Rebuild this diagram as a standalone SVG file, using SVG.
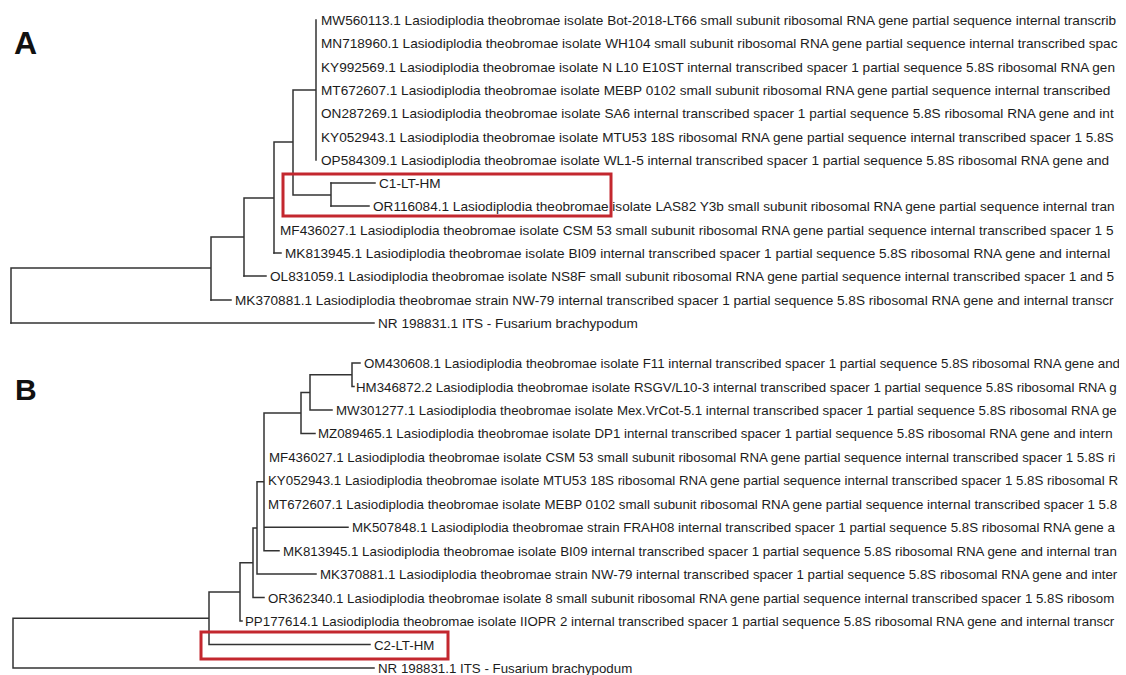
<svg xmlns="http://www.w3.org/2000/svg" width="1126" height="675" viewBox="0 0 1126 675">
<style>
.ln{stroke:#333;stroke-width:1.5;fill:none;stroke-linecap:square}
.ta{font-family:"Liberation Sans",Arial,sans-serif;font-size:13.6px;fill:#1c1c1c}
.tb{font-family:"Liberation Sans",Arial,sans-serif;font-size:13.3px;fill:#1c1c1c}
.pl{font-family:"Liberation Sans",Arial,sans-serif;font-weight:bold;fill:#111}
.hl{fill:none;stroke:#c3272e;stroke-width:3}
</style>
<defs><clipPath id="clip"><rect x="0" y="0" width="1119" height="675"/></clipPath></defs>
<rect width="1126" height="675" fill="#fff"/>
<text class="pl" x="14" y="54" font-size="32">A</text>
<text class="pl" x="15" y="400" font-size="30">B</text>
<g id="connectors">
<path class="ln" d="M316,20V160 M293,90H316 M331,183V206 M293,195H331 M293,90V195 M274,142H293 M274,142V253 M244,198H274 M244,198V276 M211,237H244 M211,237V300 M11,268H211 M11,268V323"/>
<path class="ln" d="M331,183H375 M331,206H369 M274,253H281 M244,276H266 M211,300H231 M11,323H374"/>
<path class="ln" d="M352,363V386.5 M352,363H360 M352,386.5H354 M310,374.7H352 M310,374.7V410 M310,410H332 M301,392.4H310 M301,392.4V433.4 M301,433.4H315 M264,412.9H301 M264,412.9V550.7 M264,527.2H348 M264,550.7H279 M257,481.8H264 M257,481.8V574.1 M257,574.1H316 M253,528H257 M253,528V597.6 M253,597.6H264 M240,562.8H253 M240,562.8V621 M240,621H242 M209,591.9H240 M209,591.9V644.5 M209,644.5H370 M13,618.2H209 M13,618.2V668 M13,668H374"/>
</g>
<g clip-path="url(#clip)">
<g id="a-mw560113"><text class="ta" x="321" y="25">MW560113.1 Lasiodiplodia theobromae isolate Bot-2018-LT66 small subunit ribosomal RNA gene partial sequence internal transcrib</text></g>
<g id="a-mn718960"><text class="ta" x="321" y="48.3">MN718960.1 Lasiodiplodia theobromae isolate WH104 small subunit ribosomal RNA gene partial sequence internal transcribed spac</text></g>
<g id="a-ky992569"><text class="ta" x="321" y="71.6">KY992569.1 Lasiodiplodia theobromae isolate N L10 E10ST internal transcribed spacer 1 partial sequence 5.8S ribosomal RNA gen</text></g>
<g id="a-mt672607"><text class="ta" x="321" y="94.9">MT672607.1 Lasiodiplodia theobromae isolate MEBP 0102 small subunit ribosomal RNA gene partial sequence internal transcribed</text></g>
<g id="a-on287269"><text class="ta" x="321" y="118.2">ON287269.1 Lasiodiplodia theobromae isolate SA6 internal transcribed spacer 1 partial sequence 5.8S ribosomal RNA gene and int</text></g>
<g id="a-ky052943"><text class="ta" x="321" y="141.5">KY052943.1 Lasiodiplodia theobromae isolate MTU53 18S ribosomal RNA gene partial sequence internal transcribed spacer 1 5.8S</text></g>
<g id="a-op584309"><text class="ta" x="321" y="164.8">OP584309.1 Lasiodiplodia theobromae isolate WL1-5 internal transcribed spacer 1 partial sequence 5.8S ribosomal RNA gene and</text></g>
<g id="a-c1"><text class="ta" x="379" y="188.1">C1-LT-HM</text></g>
<g id="a-or116084"><text class="ta" x="373" y="211.4">OR116084.1 Lasiodiplodia theobromae isolate LAS82 Y3b small subunit ribosomal RNA gene partial sequence internal tran</text></g>
<g id="a-mf436027"><text class="ta" x="280" y="234.7">MF436027.1 Lasiodiplodia theobromae isolate CSM 53 small subunit ribosomal RNA gene partial sequence internal transcribed spacer 1 5</text></g>
<g id="a-mk813945"><text class="ta" x="285" y="258">MK813945.1 Lasiodiplodia theobromae isolate BI09 internal transcribed spacer 1 partial sequence 5.8S ribosomal RNA gene and internal</text></g>
<g id="a-ol831059"><text class="ta" x="270" y="281.3">OL831059.1 Lasiodiplodia theobromae isolate NS8F small subunit ribosomal RNA gene partial sequence internal transcribed spacer 1 and 5</text></g>
<g id="a-mk370881"><text class="ta" x="235" y="304.6">MK370881.1 Lasiodiplodia theobromae strain NW-79 internal transcribed spacer 1 partial sequence 5.8S ribosomal RNA gene and internal transcr</text></g>
<g id="a-nr198831"><text class="ta" x="378" y="327.9">NR 198831.1 ITS - Fusarium brachypodum</text></g>

<g id="b-om430608"><text class="tb" x="364" y="368">OM430608.1 Lasiodiplodia theobromae isolate F11 internal transcribed spacer 1 partial sequence 5.8S ribosomal RNA gene and</text></g>
<g id="b-hm346872"><text class="tb" x="356" y="391.5">HM346872.2 Lasiodiplodia theobromae isolate RSGV/L10-3 internal transcribed spacer 1 partial sequence 5.8S ribosomal RNA g</text></g>
<g id="b-mw301277"><text class="tb" x="336" y="415">MW301277.1 Lasiodiplodia theobromae isolate Mex.VrCot-5.1 internal transcribed spacer 1 partial sequence 5.8S ribosomal RNA ge</text></g>
<g id="b-mz089465"><text class="tb" x="318" y="438.4">MZ089465.1 Lasiodiplodia theobromae isolate DP1 internal transcribed spacer 1 partial sequence 5.8S ribosomal RNA gene and intern</text></g>
<g id="b-mf436027"><text class="tb" x="269" y="461.8">MF436027.1 Lasiodiplodia theobromae isolate CSM 53 small subunit ribosomal RNA gene partial sequence internal transcribed spacer 1 5.8S ri</text></g>
<g id="b-ky052943"><text class="tb" x="268" y="485.3">KY052943.1 Lasiodiplodia theobromae isolate MTU53 18S ribosomal RNA gene partial sequence internal transcribed spacer 1 5.8S ribosomal R</text></g>
<g id="b-mt672607"><text class="tb" x="268" y="508.8">MT672607.1 Lasiodiplodia theobromae isolate MEBP 0102 small subunit ribosomal RNA gene partial sequence internal transcribed spacer 1 5.8</text></g>
<g id="b-mk507848"><text class="tb" x="352" y="532.2">MK507848.1 Lasiodiplodia theobromae strain FRAH08 internal transcribed spacer 1 partial sequence 5.8S ribosomal RNA gene a</text></g>
<g id="b-mk813945"><text class="tb" x="283" y="555.7">MK813945.1 Lasiodiplodia theobromae isolate BI09 internal transcribed spacer 1 partial sequence 5.8S ribosomal RNA gene and internal tran</text></g>
<g id="b-mk370881"><text class="tb" x="320" y="579.1">MK370881.1 Lasiodiplodia theobromae strain NW-79 internal transcribed spacer 1 partial sequence 5.8S ribosomal RNA gene and inter</text></g>
<g id="b-or362340"><text class="tb" x="268" y="602.6">OR362340.1 Lasiodiplodia theobromae isolate 8 small subunit ribosomal RNA gene partial sequence internal transcribed spacer 1 5.8S ribosom</text></g>
<g id="b-pp177614"><text class="tb" x="245" y="626">PP177614.1 Lasiodiplodia theobromae isolate IIOPR 2 internal transcribed spacer 1 partial sequence 5.8S ribosomal RNA gene and internal transcr</text></g>
<g id="b-c2"><text class="tb" x="374" y="649.5">C2-LT-HM</text></g>
<g id="b-nr198831"><text class="tb" x="378" y="673">NR 198831.1 ITS - Fusarium brachypodum</text></g>
</g>
<g id="highlights">
<rect class="hl" x="283" y="174" width="328" height="42"/>
<rect class="hl" x="201" y="632" width="247" height="27"/>
</g>
</svg>
